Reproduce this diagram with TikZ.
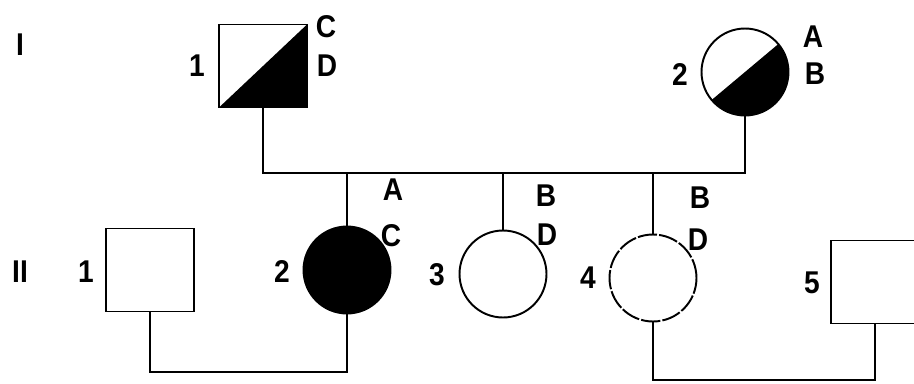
\documentclass[tikz,border=0pt]{standalone}
\usepackage{fontspec}
\setmainfont{Liberation Sans}
\usepackage{tikz}
\usetikzlibrary{positioning,calc}

\tikzset{
  male/.style={draw, line width=1.1pt, minimum width=1.76cm, minimum height=1.66cm, inner sep=0pt},
  female/.style={draw, circle, line width=1.1pt, minimum size=1.74cm, inner sep=0pt},
  halfsq/.style={path picture={\fill (path picture bounding box.south west) -- (path picture bounding box.north east) -- (path picture bounding box.south east) -- cycle;}},
  halfci/.style={path picture={\fill ([shift={(220:2cm)}]path picture bounding box.center) -- ([shift={(40:2cm)}]path picture bounding box.center) -- ([shift={(-50:2cm)}]path picture bounding box.center) -- cycle;}},
  lbl/.style={inner sep=0pt, font=\fontsize{16}{18}\selectfont\bfseries, yscale=1.12},
  link/.style={line width=1.1pt}
}

\begin{document}
\begin{tikzpicture}[x=0.02cm, y=-0.02cm]
    \useasboundingbox (0,0) rectangle (914,383);
    \clip (0,0) rectangle (914,383);

    % generation I
    \node[male, halfsq] (I1) at (263,66) {};
    \node[female, halfci] (I2) at (745,72) {};
    % generation II
    \node[male] (II1) at (150,270) {};
    \node[female, fill=black] (II2) at (347,270) {};
    \node[female] (II3) at (503,274) {};
    \node[female, dash pattern=on 11pt off 1.2pt] (II4) at (653,278) {};
    \node[male] (II5) at (875,282) {};

    \coordinate (sib) at (500,173);
    \coordinate (m1) at (250,372);
    \coordinate (m2) at (760,380);

    \draw[link] (I1.south) |- (sib) -| (I2.south);
    \draw[link] (II2.north) -- (II2.north |- sib);
    \draw[link] (II3.north) -- (II3.north |- sib);
    \draw[link] (II4.north) -- (II4.north |- sib);
    \draw[link] (II1.south) |- (m1) -| (II2.south);
    \draw[link] (II4.south) |- (m2) -| (II5.south);

    % labels
    \node[lbl] (genI) at (20,45) {I};
    \node[lbl] (genII) at (20,272) {II};
    \node[lbl] (nI1) at (197,66) {1};
    \node[lbl] (cI1) at (326,27) {C};
    \node[lbl] (dI1) at (327,66) {D};
    \node[lbl] (nI2) at (680,75) {2};
    \node[lbl] (aI2) at (813,37) {A};
    \node[lbl] (bI2) at (815,74) {B};
    \node[lbl] (nII1) at (86,272) {1};
    \node[lbl] (nII2) at (282,272) {2};
    \node[lbl] (aII2) at (393,190) {A};
    \node[lbl] (cII2) at (391,236) {C};
    \node[lbl] (nII3) at (437,275) {3};
    \node[lbl] (bII3) at (546,196) {B};
    \node[lbl] (dII3) at (547,235) {D};
    \node[lbl] (nII4) at (588,278) {4};
    \node[lbl] (bII4) at (700,198) {B};
    \node[lbl] (dII4) at (698,240) {D};
    \node[lbl] (nII5) at (812,283) {5};
  \end{tikzpicture}
\end{document}
